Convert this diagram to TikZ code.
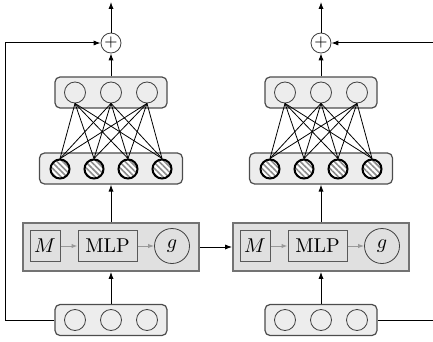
\documentclass[tikz,border=0pt]{standalone}
\usepackage{tikz}
\usetikzlibrary{arrows.meta, positioning, patterns.meta}

\begin{document}
\begin{tikzpicture}[
    x=0.5pt, y=-0.5pt,
    layer/.style={rectangle, draw=black!70, fill=black!7, rounded corners=2.5pt, minimum width=56pt, minimum height=15.5pt, line width=0.6pt},
    widelayer/.style={layer, minimum width=71.5pt},
    core/.style={rectangle, draw=black!55, fill=black!12, minimum width=88pt, minimum height=24pt, line width=0.9pt},
    part/.style={rectangle, draw=black!65, fill=black!12, minimum height=15.5pt, inner sep=0pt, line width=0.5pt},
    unit/.style={circle, draw=black!75, minimum size=10.5pt, inner sep=0pt, line width=0.4pt},
    hatched/.style={circle, draw, line width=1pt, minimum size=9.5pt, inner sep=0pt, preaction={fill=white}, pattern={Lines[angle=-45, distance=2pt, line width=0.8pt]}, pattern color=black!45},
    gate/.style={circle, draw=black!75, minimum size=17.5pt, inner sep=0pt, line width=0.4pt},
    plus/.style={circle, draw=black!75, minimum size=10pt, inner sep=0pt, line width=0.4pt, font=\footnotesize},
    arrow/.style={-{Latex[length=3.5pt, width=2.6pt]}, line width=0.5pt},
    inner/.style={-{Latex[length=3pt, width=2.2pt]}, draw=black!40, line width=0.5pt},
    wire/.style={line width=0.4pt}
  ]
    \useasboundingbox (0,0) rectangle (433,342);

    \foreach \c/\x in {a/111, b/321} {
      % Layers
      \node[layer] (top-\c) at (\x,92.5) {};
      \node[widelayer] (hid-\c) at (\x,168.5) {};
      \node[core] (core-\c) at (\x,247) {};
      \node[layer] (in-\c) at (\x,320) {};
      \node[plus] (plus-\c) at (\x,43) {$+$};
      \coordinate (out-\c) at (\x,2);

      % Units
      \foreach \i/\dx in {1/-36, 2/0, 3/36} {
        \node[unit] (top-\c-\i) at (\x+\dx,92.5) {};
        \node[unit] (in-\c-\i) at (\x+\dx,320) {};
      }
      \foreach \j/\dx in {1/-51, 2/-17, 3/17, 4/51}
        \node[hatched] (hid-\c-\j) at (\x+\dx,169) {};

      % Core parts
      \node[part, minimum width=15pt] (m-\c) at (\x-66,246) {$M$};
      \node[part, minimum width=29.5pt] (mlp-\c) at (\x-3.5,246) {MLP};
      \node[gate] (g-\c) at (\x+61,246) {$g$};
      \draw[inner] (m-\c) -- (mlp-\c);
      \draw[inner] (mlp-\c) -- (g-\c);

      % Connections
      \foreach \i in {1,2,3}
        \foreach \j in {1,...,4}
          \draw[wire] (top-\c-\i.south) -- (hid-\c-\j.north);
      \draw[arrow] (in-\c) -- (core-\c);
      \draw[arrow] (core-\c) -- (hid-\c);
      \draw[arrow] (top-\c) -- (plus-\c);
      \draw[arrow] (plus-\c) -- (out-\c);
    }

    % Between the two steps
    \draw[arrow] (core-a) -- (core-b);

    % Skip connections
    \coordinate (left-edge) at (5,43);
    \coordinate (right-in) at (433,43);
    \coordinate (right-out) at (433,320);
    \draw[arrow] (in-a) -| (left-edge) -- (plus-a);
    \draw[arrow] (right-in) -- (plus-b);
    \draw[line width=0.5pt] (in-b) -- (right-out);

  \end{tikzpicture}
\end{document}
